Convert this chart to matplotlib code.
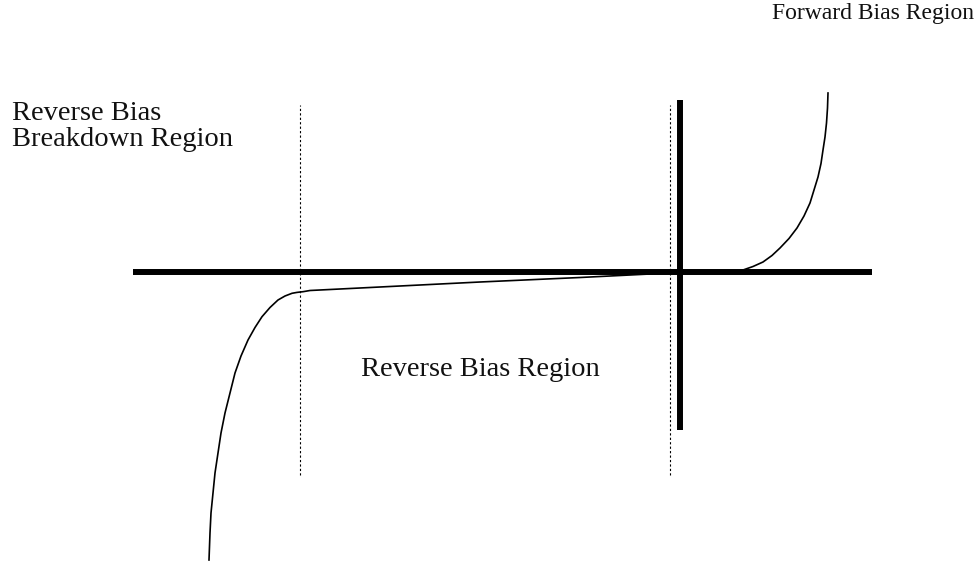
import matplotlib.pyplot as plt

# diode I-V sketch, arbitrary units (V, I)
fwd_v = [6.0, 6.3, 7.3, 8.3, 9.2, 10.0, 10.9, 11.7, 12.4, 13.0, 13.4, 13.8,
         14.1, 14.3, 14.5, 14.65, 14.75, 14.8]
fwd_i = [0.0, 0.2, 0.55, 1.0, 1.65, 2.4, 3.35, 4.4, 5.6, 6.9, 8.2, 9.5,
         10.85, 12.2, 13.5, 14.9, 16.4, 17.9]

rev_v = [-1.0, -10.0, -20.0, -30.0, -37.0, -37.7, -38.3, -38.8, -39.5, -40.2,
         -41.0, -41.8, -42.5, -43.2, -43.9, -44.5, -45.0, -45.5, -45.9, -46.2,
         -46.5, -46.7, -46.9, -47.0, -47.1]
rev_i = [-0.1, -0.55, -1.0, -1.5, -1.85, -1.97, -2.04, -2.13, -2.4, -2.8,
         -3.55, -4.47, -5.55, -6.8, -8.4, -10.1, -12.1, -14.1, -16.1, -18.1,
         -20.1, -22.1, -24.1, -26.1, -28.8]

x_axis = [-54.7, 19.2]
y_axis = [-15.8, 17.2]
region_lines = [-38.0, -1.0]
region_span = [-20.3, 16.7]

fig = plt.figure(figsize=(9.79, 5.67), dpi=100)
ax = fig.add_axes([0, 0, 1, 1])
ax.set_xlim(-68.0, 29.9)
ax.set_ylim(-29.5, 27.2)
ax.axis('off')

ax.plot(x_axis, [0, 0], color='black', lw=4.3, solid_capstyle='butt')
ax.plot([0, 0], y_axis, color='black', lw=4.3, solid_capstyle='butt')

for v in region_lines:
    ax.plot([v, v], region_span, color='black', lw=0.8, linestyle=(0, (2, 2)))

ax.plot(fwd_v, fwd_i, color='black', lw=1.2)
ax.plot(rev_v, rev_i, color='black', lw=1.2)

font = dict(family='Liberation Serif', color='#111111')
ax.text(29.4, 25.8, 'Forward Bias Region', ha='right', va='center',
        fontsize=17, **font)
ax.text(-66.8, 14.55, 'Reverse Bias\nBreakdown Region', ha='left', va='center',
        fontsize=20.5, linespacing=1.0, **font)
ax.text(-31.9, -9.8, 'Reverse Bias Region', ha='left', va='center',
        fontsize=20.5, **font)

fig.savefig('out.png', dpi=100)
